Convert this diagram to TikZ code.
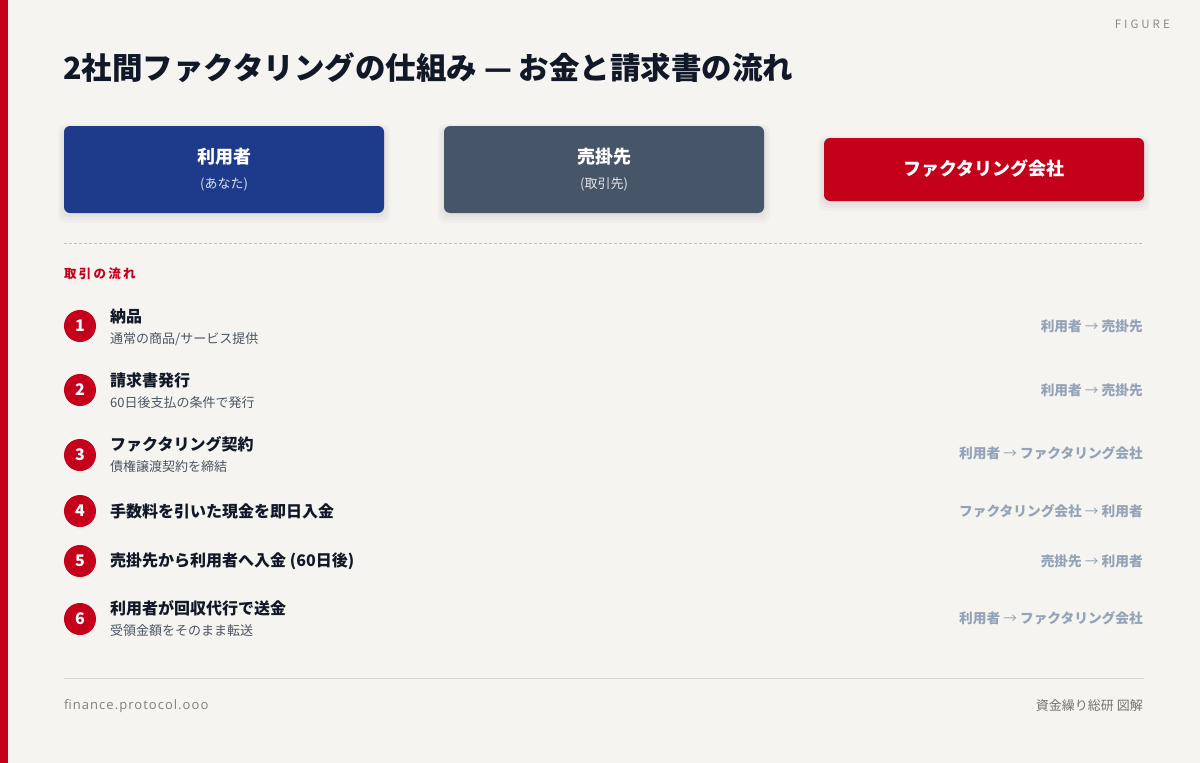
\documentclass[tikz,border=0pt]{standalone}
\usepackage{fontspec}
\setmainfont{Noto Sans CJK JP}
\newfontfamily\latinfont{Open Sans}
\definecolor{bg}{HTML}{F5F4F0}
\definecolor{brand}{HTML}{C4001A}
\definecolor{ink}{HTML}{111827}
\definecolor{sub}{HTML}{4B5563}
\definecolor{blueb}{HTML}{1E3A8A}
\definecolor{slateb}{HTML}{475569}
\definecolor{route}{HTML}{94A3B8}
\definecolor{rule}{HTML}{D4D4D0}
\tikzset{
  party/.style={rounded corners=6pt, minimum width=320pt, inner sep=0pt},
  badge/.style={circle, fill=brand, minimum size=32pt, inner sep=0pt, text=white, font=\fontsize{16}{16}\selectfont\bfseries},
  steptitle/.style={anchor=west, inner sep=0pt, text=ink, font=\fontsize{16}{16}\selectfont\bfseries},
  stepsub/.style={anchor=west, inner sep=0pt, text=sub, font=\fontsize{13}{13}\selectfont},
  routelabel/.style={anchor=east, inner sep=0pt, text=route, font=\fontsize{13.7}{13.7}\selectfont\bfseries},
  shade1/.style={fill=black, fill opacity=0.025, rounded corners=8pt},
}
\newcommand\softshadow[4]{% x1 y1 x2 y2
  \fill[shade1] (#1-6,#2-2) rectangle (#3+6,#4+10);
  \fill[shade1] (#1-4,#2) rectangle (#3+4,#4+7);
  \fill[shade1] (#1-2,#2+2) rectangle (#3+2,#4+4);
}
\newcommand\ar{{\mdseries\ →\ }}
\begin{document}
\begin{tikzpicture}[x=1pt,y=-1pt]
\useasboundingbox (0,0) rectangle (1200,763);
\fill[bg] (0,0) rectangle (1200,763);
\fill[brand] (0,0) rectangle (8,763);

\node[anchor=east, inner sep=0pt, text=black!45, font=\fontsize{11.5}{11.5}\selectfont\addfontfeatures{LetterSpace=26}] (fig) at (1170,24) {FIGURE};
\node[anchor=west, inner sep=0pt, text=ink, font=\fontsize{30.5}{30.5}\selectfont\bfseries] (title) at (63,68) {2社間ファクタリングの仕組み — お金と請求書の流れ};

% parties
\softshadow{64}{126}{384}{213}
\softshadow{444}{126}{764}{213}
\softshadow{824}{138}{1144}{201}
\node[party, fill=blueb, minimum height=87pt] (user) at (224,169.5) {};
\node[text=white, font=\fontsize{18}{18}\selectfont\bfseries, inner sep=0pt] (usert) at (224,157) {利用者};
\node[text=white!85!blueb, font=\fontsize{13}{13}\selectfont, inner sep=0pt] (users) at (224,184) {(あなた)};

\node[party, fill=slateb, minimum height=87pt] (buyer) at (604,169.5) {};
\node[text=white, font=\fontsize{18}{18}\selectfont\bfseries, inner sep=0pt] (buyert) at (604,157) {売掛先};
\node[text=white!85!slateb, font=\fontsize{13}{13}\selectfont, inner sep=0pt] (buyers) at (604,184) {(取引先)};

\node[party, fill=brand, minimum height=63pt] (fact) at (984,169.5) {};
\node[text=white, font=\fontsize{18}{18}\selectfont\bfseries, inner sep=0pt] (factt) at (984,169) {ファクタリング会社};

\draw[rule!90!black, dash pattern=on 3pt off 2pt, line width=0.8pt] (64,243) -- (1144,243);

\node[anchor=west, inner sep=0pt, text=brand, font=\fontsize{12.5}{12.5}\selectfont\bfseries\addfontfeatures{LetterSpace=18}] (flow) at (64,274) {取引の流れ};

% steps
\node[badge] (b1) at (80,326) {1};
\node[steptitle] (t1) at (110,316) {納品};
\node[stepsub] (s1) at (110,339) {通常の商品/サービス提供};
\node[routelabel] (r1) at (1143,326) {利用者\ar 売掛先};

\node[badge] (b2) at (80,390) {2};
\node[steptitle] (t2) at (110,380) {請求書発行};
\node[stepsub] (s2) at (110,403) {60日後支払の条件で発行};
\node[routelabel] (r2) at (1143,390) {利用者\ar 売掛先};

\node[badge] (b3) at (80,455) {3};
\node[steptitle] (t3) at (110,444) {ファクタリング契約};
\node[stepsub] (s3) at (110,467) {債権譲渡契約を締結};
\node[routelabel] (r3) at (1143,453) {利用者\ar ファクタリング会社};

\node[badge] (b4) at (80,511) {4};
\node[steptitle] (t4) at (110,511) {手数料を引いた現金を即日入金};
\node[routelabel] (r4) at (1143,511) {ファクタリング会社\ar 利用者};

\node[badge] (b5) at (80,561) {5};
\node[steptitle] (t5) at (110,561) {売掛先から利用者へ入金 (60日後)};
\node[routelabel] (r5) at (1143,561) {売掛先\ar 利用者};

\node[badge] (b6) at (80,619) {6};
\node[steptitle] (t6) at (110,608) {利用者が回収代行で送金};
\node[stepsub] (s6) at (110,631) {受領金額をそのまま転送};
\node[routelabel] (r6) at (1143,618) {利用者\ar ファクタリング会社};

\draw[rule, line width=1pt] (64,678) -- (1144,678);
\node[anchor=west, inner sep=0pt, text=black!50, font=\latinfont\fontsize{13}{13}\selectfont\addfontfeatures{LetterSpace=8}] (site) at (64,706) {finance.protocol.ooo};
\node[anchor=east, inner sep=0pt, text=black!55, font=\fontsize{13}{13}\selectfont] (credit) at (1143,706) {資金繰り総研 図解};
\end{tikzpicture}
\end{document}
